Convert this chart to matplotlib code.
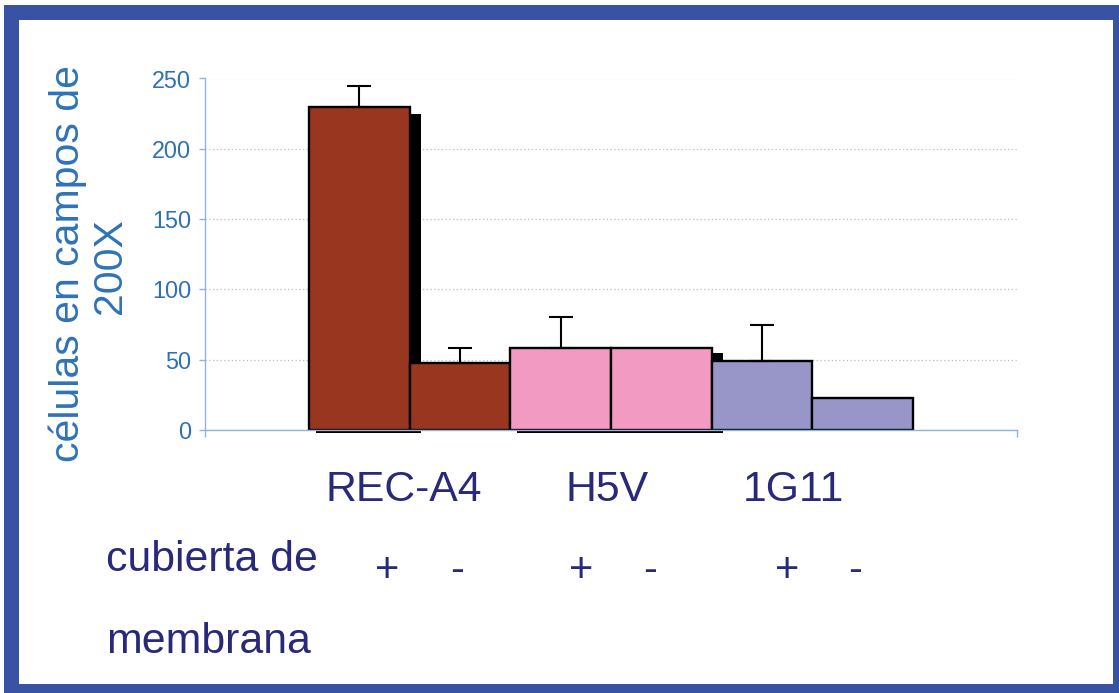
import matplotlib
matplotlib.use("Agg")
import matplotlib.pyplot as plt
import numpy as np
from matplotlib.patches import Rectangle

plt.rcParams['font.family'] = ['Liberation Sans', 'DejaVu Sans']

# ---- data ----
groups = ["REC-A4", "H5V", "1G11"]
signs = ["+", "-", "+", "-", "+", "-"]
values = [230, 48, 58.5, 58.5, 49, 23]
err_up = [15, 10, 22, 0, 26, 0]
bar_colors = ["#98361F", "#98361F", "#F39AC2", "#F39AC2", "#9896C8", "#9896C8"]
shadow_values = [225, 55]
shadow_spans = [(0, 0), (2, 3)]
yticks = [0, 50, 100, 150, 200, 250]
ylabel_lines = ["células en campos de", "200X"]
row_label_lines = ["cubierta de", "membrana"]

W, H = 1119, 693
fig = plt.figure(figsize=(W / 100, H / 100), dpi=100)
fig.patch.set_facecolor("white")

def fx(px):
    return px / W

def fy(py):
    return 1 - py / H

ax = fig.add_axes([fx(205), fy(430), fx(1017) - fx(205), fy(78.5) - fy(430)])
ax.set_facecolor("none")

n = len(values)
x = np.arange(n)
ax.set_xlim(-1.53, n - 1 + 1.53)
ax.set_ylim(0, 250)

# shadows (black offset blocks behind some bars)
for val, (i0, i1) in zip(shadow_values, shadow_spans):
    left = x[i0] - 0.5 + 0.07
    right = x[i1] + 0.5 + 0.115
    ax.add_patch(Rectangle((left, -2.4), right - left, val + 2.4,
                           facecolor="black", edgecolor="none", zorder=1,
                           clip_on=False))

ax.bar(x, values, width=1.0, color=bar_colors, edgecolor="black",
       linewidth=1.7, zorder=2)

ex = [xi for xi, e in zip(x, err_up) if e > 0]
ey = [v for v, e in zip(values, err_up) if e > 0]
ee = [e for e in err_up if e > 0]
ax.errorbar(ex, ey, yerr=[np.zeros(len(ee)), ee], fmt="none", ecolor="black",
            elinewidth=1.5, capsize=8.3, capthick=1.5, zorder=3)

# grid
ax.set_yticks(yticks)
ax.yaxis.grid(True, linestyle=(0, (1, 2)), color="#BDBDBD", linewidth=0.9)
ax.set_axisbelow(True)

axis_col = "#8EB4DE"
for s in ["top", "right"]:
    ax.spines[s].set_visible(False)
ax.spines["left"].set_color(axis_col)
ax.spines["bottom"].set_color(axis_col)
ax.spines["left"].set_linewidth(1.0)
ax.spines["bottom"].set_linewidth(1.0)

ax.tick_params(axis="y", colors=axis_col, length=4.5, width=1.0, direction="out",
               labelcolor="#2F70B8", labelsize=16.8, pad=5.5)
xl = ax.get_xlim()
ax.set_xticks([xl[0], xl[1]])
ax.set_xticklabels(["", ""])
ax.tick_params(axis="x", colors=axis_col, length=5, width=1.0, direction="out")

# y label (two lines)
ylab_col = "#2F72B9"
fig.text(fx(68), fy(264), ylabel_lines[0], rotation=90, ha="center", va="center",
         fontsize=29.5, color=ylab_col)
fig.text(fx(110), fy(266), ylabel_lines[1], rotation=90, ha="center", va="center",
         fontsize=29.5, color=ylab_col)

navy = "#28297A"
group_cx = [404, 607, 793]
for g, cx in zip(groups, group_cx):
    fig.text(fx(cx), fy(501), g, ha="center", va="baseline", fontsize=30.8, color=navy)

sign_cx = [387, 457, 581, 650, 787, 855]
for s, cx in zip(signs, sign_cx):
    fig.text(fx(cx), fy(582), s, ha="center", va="baseline", fontsize=30, color=navy)

fig.text(fx(106), fy(571), row_label_lines[0], ha="left", va="baseline",
         fontsize=30.8, color=navy)
fig.text(fx(106), fy(653), row_label_lines[1], ha="left", va="baseline",
         fontsize=30.8, color=navy)

# blue frame
bc = "#3953A4"
def band(x0, y0, x1, y1):
    fig.patches.append(Rectangle((fx(x0), fy(y1)), fx(x1) - fx(x0), fy(y0) - fy(y1),
                                 transform=fig.transFigure, facecolor=bc,
                                 edgecolor="none", zorder=10))
band(4, 5, W, 20)      # top
band(4, 5, 19, H)      # left
band(1113, 5, W, H)    # right
band(4, 684, W, H)     # bottom

fig.savefig("out.png", dpi=100)
